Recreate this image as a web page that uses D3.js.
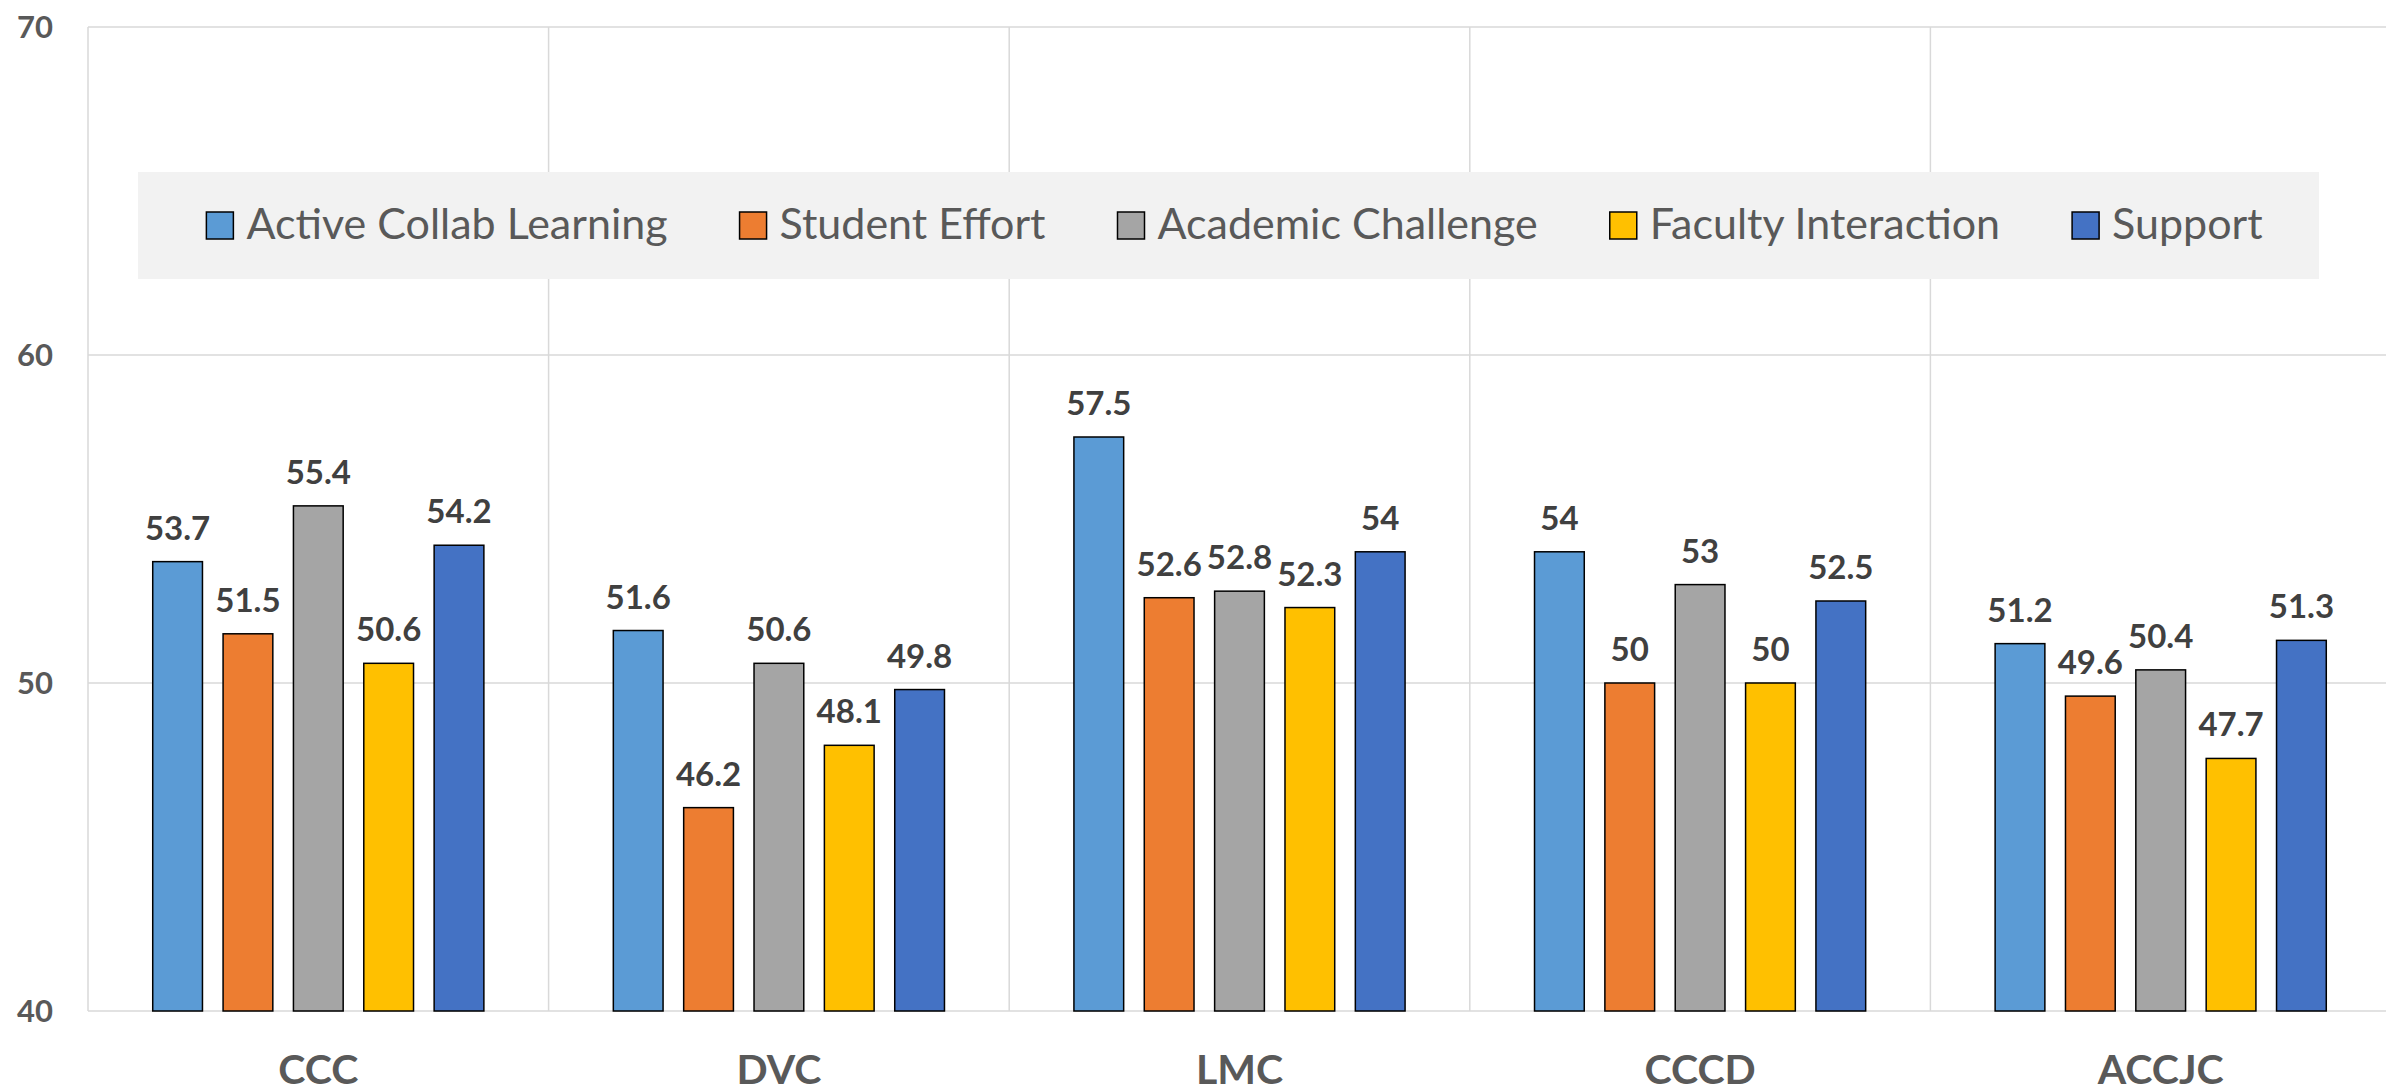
<!DOCTYPE html>
<meta charset="utf-8">
<style>
body { margin: 0; background: #fff; }
text { font-family: Lato, "Open Sans", sans-serif; }
</style>
<svg class="chart" width="2386" height="1092"></svg>
<script src="https://d3js.org/d3.v7.min.js"></script>
<script>

var categories = ["CCC", "DVC", "LMC", "CCCD", "ACCJC"];
var seriesNames = ["Active Collab Learning", "Student Effort", "Academic Challenge", "Faculty Interaction", "Support"];
var seriesColors = ["#5B9BD5", "#ED7D31", "#A5A5A5", "#FFC000", "#4472C4"];

var activeCollab = [53.7, 51.6, 57.5, 54, 51.2];
var studentEffort = [51.5, 46.2, 52.6, 50, 49.6];
var academicChallenge = [55.4, 50.6, 52.8, 53, 50.4];
var facultyInteraction = [50.6, 48.1, 52.3, 50, 47.7];
var support = [54.2, 49.8, 54, 52.5, 51.3];

var yTicks = [40, 50, 60, 70];

var values = [activeCollab, studentEffort, academicChallenge, facultyInteraction, support];

var svg = d3.select(".chart"),
    plotLeft = 88, plotRight = 2391, plotTop = 27, plotBottom = 1011;

var x0 = d3.scaleBand()
    .domain(categories)
    .range([plotLeft, plotRight]);

var x1 = d3.scaleBand()
    .domain(d3.range(seriesNames.length))
    .range([0, x0.bandwidth()])
    .paddingInner(0.293)
    .paddingOuter(0.92);

var y = d3.scaleLinear()
    .domain([40, 70])
    .range([plotBottom, plotTop]);

var grid = svg.append("g").attr("stroke", "#d9d9d9").attr("stroke-width", 1.5);

grid.selectAll(".h")
  .data(yTicks)
  .enter().append("line")
    .attr("x1", plotLeft).attr("x2", plotRight)
    .attr("y1", function(d) { return y(d); })
    .attr("y2", function(d) { return y(d); });

grid.selectAll(".v")
  .data(categories)
  .enter().append("line")
    .attr("x1", function(d) { return x0(d); })
    .attr("x2", function(d) { return x0(d); })
    .attr("y1", plotTop).attr("y2", plotBottom);

svg.append("g")
  .selectAll("text")
  .data(yTicks)
  .enter().append("text")
    .attr("x", 53)
    .attr("y", function(d) { return y(d); })
    .attr("dy", "0.36em")
    .attr("text-anchor", "end")
    .attr("fill", "#595959")
    .attr("font-weight", "bold")
    .attr("font-size", 31)
    .text(function(d) { return d; });

svg.append("g")
  .selectAll("text")
  .data(categories)
  .enter().append("text")
    .attr("x", function(d) { return x0(d) + x0.bandwidth() / 2; })
    .attr("y", 1084)
    .attr("text-anchor", "middle")
    .attr("fill", "#595959")
    .attr("font-weight", "bold")
    .attr("font-size", 41)
    .text(function(d) { return d; });

var groups = svg.append("g")
  .selectAll("g")
  .data(categories)
  .enter().append("g")
    .attr("transform", function(d) { return "translate(" + x0(d) + ",0)"; });

var cells = groups.selectAll("g")
  .data(function(d, ci) {
    return values.map(function(v, si) { return {s: si, value: v[ci]}; });
  })
  .enter().append("g");

cells.append("rect")
    .attr("x", function(d) { return x1(d.s); })
    .attr("y", function(d) { return y(d.value); })
    .attr("width", x1.bandwidth())
    .attr("height", function(d) { return y(40) - y(d.value); })
    .attr("fill", function(d) { return seriesColors[d.s]; })
    .attr("stroke", "#000")
    .attr("stroke-width", 1.5);

cells.append("text")
    .attr("x", function(d) { return x1(d.s) + x1.bandwidth() / 2; })
    .attr("y", function(d) { return y(d.value) - 22; })
    .attr("text-anchor", "middle")
    .attr("fill", "#404040")
    .attr("font-weight", "bold")
    .attr("font-size", 33)
    .text(function(d) { return d.value; });

// legend
var lg = {x: 138, y: 172, w: 2181, h: 107, box: 27, gap: 13, spacing: 72};

svg.append("rect")
    .attr("x", lg.x).attr("y", lg.y)
    .attr("width", lg.w).attr("height", lg.h)
    .attr("fill", "#f2f2f2");

var legend = svg.append("g");

var items = legend.selectAll("g")
  .data(seriesNames)
  .enter().append("g");

items.append("text")
    .attr("y", lg.y + 67)
    .attr("fill", "#595959")
    .attr("font-size", 43)
    .text(function(d) { return d; });

var pos = 0;
items.each(function(d, i) {
  var w = d3.select(this).select("text").node().getComputedTextLength();
  d3.select(this).select("text").attr("x", pos + lg.box + lg.gap);
  d3.select(this).insert("rect", "text")
      .attr("x", pos)
      .attr("y", lg.y + 40)
      .attr("width", lg.box)
      .attr("height", lg.box)
      .attr("fill", seriesColors[i])
      .attr("stroke", "#000")
      .attr("stroke-width", 1.5);
  pos += lg.box + lg.gap + w + lg.spacing;
});
pos -= lg.spacing;
legend.attr("transform", "translate(" + (lg.x + (lg.w - pos) / 2 + 6) + ",0)");

</script>
